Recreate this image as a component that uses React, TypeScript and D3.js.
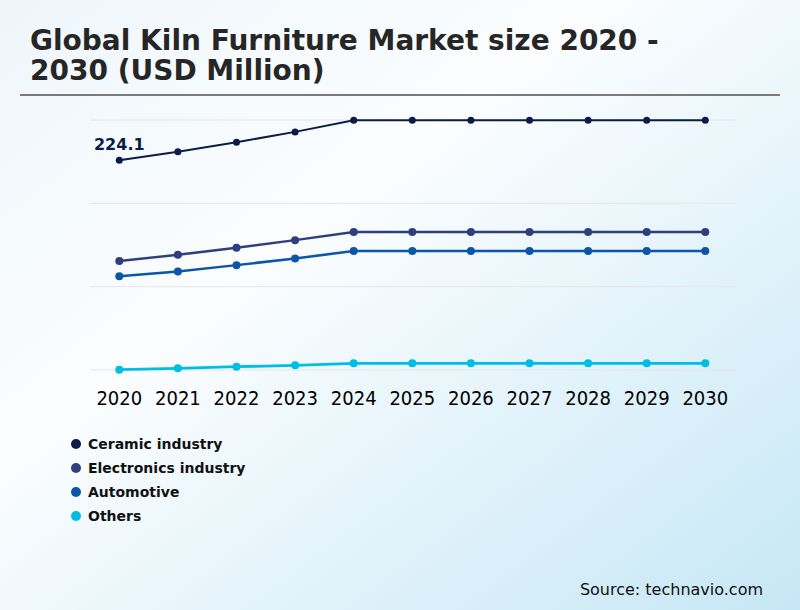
import { useMemo } from 'react';
import * as d3 from 'd3';

const WIDTH = 800;
const HEIGHT = 610;
const PLOT = { left: 90, right: 736, top: 120, bottom: 370, firstX: 119.3, lastX: 705.3 };

const years = ['2020', '2021', '2022', '2023', '2024', '2025', '2026', '2027', '2028', '2029', '2030'];
const seriesNames = ['Ceramic industry', 'Electronics industry', 'Automotive', 'Others'];
const seriesColors = ['#0b1c48', '#2e3f7c', '#0c56a8', '#00bde3'];
const ceramic = [224.1, 233.0, 243.3, 254.3, 266.8, 266.8, 266.8, 266.8, 266.8, 266.8, 266.8];
const electronics = [116.3, 123.0, 130.5, 138.7, 147.5, 147.5, 147.5, 147.5, 147.5, 147.5, 147.5];
const automotive = [100.0, 105.3, 112.0, 119.2, 127.0, 127.0, 127.0, 127.0, 127.0, 127.0, 127.0];
const others = [0.3, 1.8, 3.5, 5.0, 7.1, 7.1, 7.1, 7.1, 7.1, 7.1, 7.1];
const gridValues = [0, 89, 178, 267];
const labelText = '224.1';

const seriesValues = [ceramic, electronics, automotive, others];
const lineWidths = [2, 2.5, 2.5, 2.8];

export default function App() {
  const xScale = useMemo(
    () => d3.scalePoint<string>().domain(years).range([PLOT.firstX, PLOT.lastX]),
    []
  );
  const yScale = useMemo(
    () => d3.scaleLinear().domain([0, 267]).range([PLOT.bottom, PLOT.top]),
    []
  );

  const lineGen = d3
    .line<number>()
    .x((_, i) => xScale(years[i])!)
    .y(d => yScale(d));

  return (
    <svg
      width={WIDTH}
      height={HEIGHT}
      style={{ position: 'absolute', left: 0, top: 0, fontFamily: "'DejaVu Sans', sans-serif" }}
    >
      <defs>
        <linearGradient id="bg" x1="0" y1="0" x2="1" y2="1">
          <stop offset="0" stopColor="#eef6fb" />
          <stop offset="0.38" stopColor="#fbfdfe" />
          <stop offset="1" stopColor="#c6e7f6" />
        </linearGradient>
      </defs>
      <rect width={WIDTH} height={HEIGHT} fill="url(#bg)" />

      {/* titre */}
      <text x={30} y={50} fontSize={28} fontWeight="bold" fill="#262626">
        Global Kiln Furniture Market size 2020 -
      </text>
      <text x={30} y={80} fontSize={28} fontWeight="bold" fill="#262626">
        2030 (USD Million)
      </text>
      <line x1={20} x2={780} y1={95} y2={95} stroke="#7a7a7a" strokeWidth={2} />

      {/* grille */}
      {gridValues.map(v => (
        <line
          key={v}
          x1={PLOT.left}
          x2={PLOT.right}
          y1={yScale(v)}
          y2={yScale(v)}
          stroke="#e3e6e8"
          strokeWidth={1}
        />
      ))}

      {/* séries */}
      {seriesValues.map((vals, si) => (
        <g key={seriesNames[si]}>
          <path
            d={lineGen(vals) ?? ''}
            fill="none"
            stroke={seriesColors[si]}
            strokeWidth={lineWidths[si]}
          />
          {vals.map((v, i) => (
            <circle
              key={i}
              cx={xScale(years[i])!}
              cy={yScale(v)}
              r={si === 0 ? 3.5 : 4}
              fill={seriesColors[si]}
            />
          ))}
        </g>
      ))}

      {/* étiquette de valeur */}
      <text
        x={xScale(years[0])!}
        y={yScale(ceramic[0]) - 10}
        textAnchor="middle"
        fontSize={16}
        fontWeight="bold"
        fill="#0b1c48"
      >
        {labelText}
      </text>

      {/* axe X */}
      {years.map(y => (
        <text
          key={y}
          x={xScale(y)!}
          y={405}
          textAnchor="middle"
          fontSize={20}
          fill="#000"
          style={{ fontFamily: "'DejaVu Sans Condensed', 'DejaVu Sans', sans-serif", fontStretch: 'condensed' }}
        >
          {y}
        </text>
      ))}

      {/* légende */}
      {seriesNames.map((name, i) => (
        <g key={name} transform={`translate(76, ${444 + i * 24})`}>
          <circle r={5} fill={seriesColors[i]} />
          <text x={12} y={5} fontSize={14} fontWeight="bold" fill="#111">
            {name}
          </text>
        </g>
      ))}

      <text x={763} y={595} textAnchor="end" fontSize={16} fill="#111">
        Source: technavio.com
      </text>
    </svg>
  );
}
